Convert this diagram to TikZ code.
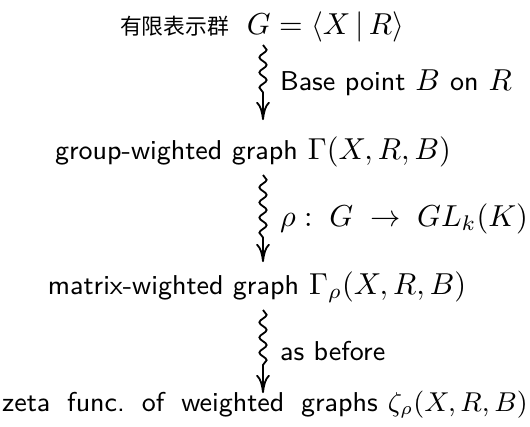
\documentclass[tikz,border=0pt]{standalone}
\usepackage{amsmath, amssymb}
\usepackage{fontspec}
\newfontfamily\cjk[Scale=0.72]{Noto Sans CJK SC}
\usetikzlibrary{decorations.pathmorphing, arrows.meta, positioning}

% sans text a bit smaller than the math
\newcommand{\stxt}[1]{{\sffamily\fontsize{9pt}{11pt}\selectfont #1}}

\begin{document}
\frenchspacing
\begin{tikzpicture}[x=0.33pt, y=-0.33pt,
    stage/.style={inner sep=1pt},
    squig/.style={decorate,
        decoration={snake, amplitude=1.2pt, segment length=5pt, post length=7pt},
        -{To[length=6pt, width=4.5pt]}, line width=0.6pt},
    lbl/.style={right=2pt, midway}]

    % bounding box of the reference
    \useasboundingbox (0,0) rectangle (530,426);

    % the four stages
    \node[stage] (grp) at (262,27) {{\cjk 有限表示群}\hspace{2.5pt} $G=\langle X \,|\, R\rangle$};
    \node[stage] (gw) at (253,152) {\stxt{group-wighted graph} $\Gamma(X,R,B)$};
    \node[stage] (mw) at (257,287) {\stxt{matrix-wighted graph} $\Gamma_\rho(X,R,B)$};
    \node[stage] (zeta) at (265,405) {\stxt{\makebox[124pt][s]{zeta func. of weighted graphs}}
        {\fontsize{8.8pt}{11pt}\selectfont $\zeta_\rho(X,R,B)$}};

    % squiggly arrows between them
    \coordinate (a1) at (263,45);  \coordinate (b1) at (263,120);
    \coordinate (a2) at (263,175); \coordinate (b2) at (263,262);
    \coordinate (a3) at (263,310); \coordinate (b3) at (263,393);

    \draw[squig] (a1) -- (b1) node[lbl] {\stxt{Base point} $B$ \stxt{on} $R$};
    \draw[squig] (a2) -- (b2) node[lbl] {$\rho:\; G\; \to\; GL_k(K)$};
    \draw[squig] (a3) -- (b3) node[lbl] {\stxt{as before}};

\end{tikzpicture}
\end{document}
